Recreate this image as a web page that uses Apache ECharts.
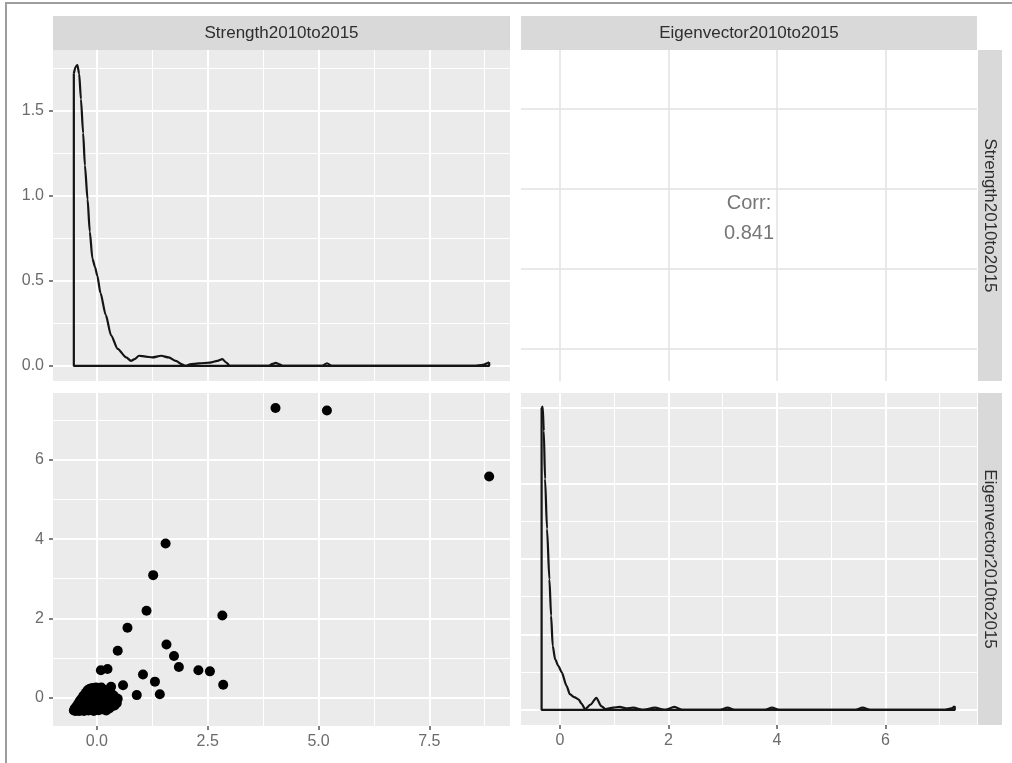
<!DOCTYPE html>
<html><head><meta charset="utf-8">
<script src="https://cdn.jsdelivr.net/npm/echarts@6/dist/echarts.min.js"></script>
<style>html,body{margin:0;padding:0;background:#fff}#chart{width:1012px;height:763px}</style>
</head><body><div id="chart"></div>
<script>
// ---- data ----
const varNames = ['Strength2010to2015', 'Eigenvector2010to2015'];
const corrLabel = 'Corr:';
const corrValue = '0.841';

// scatter: Strength (x) vs Eigenvector (y)
const strengthVals = [4.03,5.19,8.85,1.55,1.27,1.12,2.83,0.69,0.47,1.57,1.74,1.85,2.29,2.55,2.85,1.04,1.31,1.42,0.90,0.59,0.09,0.24,0.32,
  -0.52,-0.50,-0.48,-0.46,-0.45,-0.43,-0.42,-0.40,-0.39,-0.38,-0.36,-0.35,-0.34,-0.33,-0.31,-0.30,-0.29,-0.28,-0.27,-0.25,-0.24,-0.23,-0.22,-0.21,-0.20,-0.19,-0.18,-0.17,-0.16,-0.15,-0.14,-0.13,-0.12,-0.11,-0.10,-0.09,-0.08,-0.07,-0.06,-0.05,-0.04,-0.03,-0.02,-0.01,0.00,0.02,0.03,0.04,0.05,0.06,0.08,0.09,0.10,0.11,0.12,0.14,0.15,0.16,0.18,0.20,0.21,0.23,0.25,0.27,0.28,0.30,0.32,0.34,0.36,0.38,0.40,0.42,0.45,0.47];
const eigenVals = [7.31,7.25,5.58,3.89,3.09,2.19,2.07,1.76,1.18,1.34,1.05,0.77,0.69,0.66,0.32,0.58,0.40,0.08,0.06,0.31,0.69,0.72,0.27,
  -0.33,-0.28,-0.34,-0.22,-0.30,-0.33,-0.15,-0.26,-0.34,-0.08,-0.20,-0.31,-0.02,-0.13,-0.27,0.05,-0.34,-0.06,-0.20,0.12,-0.30,0.02,-0.12,0.18,-0.25,-0.33,0.08,-0.04,0.22,-0.18,0.15,-0.29,0.03,-0.10,0.24,0.18,-0.22,-0.34,0.10,-0.02,0.22,-0.15,0.25,-0.27,0.06,0.18,-0.08,-0.32,0.24,-0.20,0.12,0.00,0.25,-0.12,-0.30,0.20,0.05,-0.24,-0.06,0.15,-0.33,0.02,-0.16,0.20,-0.28,-0.05,0.10,-0.22,-0.12,0.05,-0.20,-0.08,-0.14,-0.03];

// diagonal densities
const strengthDensX = [-0.52,-0.48,-0.44,-0.40,-0.36,-0.31,-0.27,-0.21,-0.16,-0.10,-0.04,0.01,0.08,0.20,0.32,0.47,0.66,0.77,0.85,0.95,1.10,1.25,1.45,1.62,1.78,1.92,2.00,2.10,2.30,2.55,2.72,2.83,2.92,3.00,3.88,3.96,4.03,4.12,4.20,5.08,5.19,5.30,8.55,8.70,8.80,8.85];
const strengthDensY = [1.72,1.76,1.77,1.72,1.57,1.37,1.18,0.98,0.79,0.63,0.58,0.53,0.43,0.30,0.18,0.10,0.05,0.03,0.04,0.06,0.055,0.05,0.06,0.05,0.03,0.01,0.0,0.01,0.015,0.02,0.03,0.04,0.02,0.0,0.0,0.012,0.018,0.01,0.0,0.0,0.016,0.0,0.0,0.006,0.015,0.022];
const eigenDensX = [-0.34,-0.32,-0.30,-0.276,-0.24,-0.196,-0.165,-0.135,-0.09,-0.03,0.03,0.12,0.18,0.26,0.34,0.40,0.46,0.56,0.67,0.76,0.84,0.98,1.10,1.22,1.35,1.53,1.75,1.93,2.11,2.26,2.95,3.09,3.22,3.78,3.91,4.04,5.45,5.58,5.72,7.10,7.22,7.28];
const eigenDensY = [4.00,4.02,3.70,3.06,2.40,1.73,1.25,0.85,0.67,0.58,0.50,0.32,0.21,0.17,0.14,0.08,0.01,0.07,0.16,0.05,0.01,0.03,0.04,0.02,0.03,0.0,0.03,0.0,0.04,0.0,0.0,0.03,0.0,0.0,0.03,0.0,0.0,0.03,0.0,0.0,0.02,0.05];

// axis ranges and breaks
const strengthRange = [-0.99, 9.32];
const eigenRange = [-0.72, 7.69];
const strengthDensRange = [-0.0885, 1.8585];
const eigenDensRange = [-0.2, 4.2];
const strengthTicks = [0, 2.5, 5, 7.5];
const strengthMinor = [1.25, 3.75, 6.25, 8.75];
const eigenTicks = [0, 2, 4, 6];
const eigenMinor = [1, 3, 5, 7];
const strengthDensTicks = [0, 0.5, 1, 1.5];
const strengthDensMinor = [0.25, 0.75, 1.25, 1.75];
const eigenDensTicks = [0, 1, 2, 3, 4];
const eigenDensMinor = [0.5, 1.5, 2.5, 3.5];

// ---- layout ----
const FONT = '"Liberation Sans", Arial, Helvetica, sans-serif';
const panels = [
  {left: 53, top: 50, width: 457, height: 331, bg: '#ebebeb'},   // TL
  {left: 521, top: 50, width: 456, height: 331, bg: '#ffffff'},  // TR
  {left: 53, top: 393, width: 457, height: 333, bg: '#ebebeb'},  // BL
  {left: 521, top: 393, width: 456, height: 332, bg: '#ebebeb'}  // BR
];
const fmt1 = v => Number(v).toFixed(1);
const fmt0 = v => String(Number(v));

const xAxes = [], yAxes = [];
function addAxes(list, dim, grid, range, major, minor, o) {
  const base = {type: 'value', gridIndex: grid, min: range[0], max: range[1],
    position: dim === 'x' ? 'bottom' : 'left', axisLine: {show: false, onZero: false}};
  const mainIdx = list.length;
  list.push(Object.assign({}, base, {
    axisTick: {show: !!o.labels, customValues: major, length: 4, lineStyle: {color: '#555', width: 1.5}},
    axisLabel: {show: !!o.labels, customValues: major, formatter: o.fmt || fmt0, color: '#6b6b6b',
      fontSize: 16, fontFamily: FONT, margin: dim === 'x' ? 8 : 9},
    splitLine: {show: true, lineStyle: {color: o.gridColor || '#ffffff', width: o.majorWidth || 2}}
  }));
  list.push(Object.assign({}, base, {
    axisTick: {show: false, customValues: minor},
    axisLabel: {show: false, customValues: minor},
    splitLine: {show: minor.length > 0, lineStyle: {color: '#ffffff', width: 1}}
  }));
  return mainIdx;
}

const tlx = addAxes(xAxes, 'x', 0, strengthRange, strengthTicks, strengthMinor, {});
const tly = addAxes(yAxes, 'y', 0, strengthDensRange, strengthDensTicks, strengthDensMinor, {labels: true, fmt: fmt1});
const trx = addAxes(xAxes, 'x', 1, eigenRange, eigenTicks, [], {gridColor: '#e2e2e2', majorWidth: 1.5});
const trY = addAxes(yAxes, 'y', 1, strengthRange, strengthTicks, [], {gridColor: '#e2e2e2', majorWidth: 1.5});
const blx = addAxes(xAxes, 'x', 2, strengthRange, strengthTicks, strengthMinor, {labels: true, fmt: fmt1});
const bly = addAxes(yAxes, 'y', 2, eigenRange, eigenTicks, eigenMinor, {labels: true, fmt: fmt0});
const brx = addAxes(xAxes, 'x', 3, eigenRange, eigenTicks, eigenMinor, {labels: true, fmt: fmt0});
const bry = addAxes(yAxes, 'y', 3, eigenDensRange, eigenDensTicks, eigenDensMinor, {});

function curve(xs, ys) { return xs.map((x, i) => [x, ys[i]]); }
function edges(xs, ys) {
  const n = xs.length - 1;
  return [[xs[n], ys[n]], [xs[n], 0], [xs[0], 0], [xs[0], ys[0]]];
}
const lineStyle = {color: '#141414', width: 2.2};
function densSeries(xi, yi, xs, ys) {
  return [
    {type: 'line', xAxisIndex: xi, yAxisIndex: yi, data: curve(xs, ys), showSymbol: false, symbol: 'none',
      smooth: 0.25, smoothMonotone: 'x', lineStyle: lineStyle, z: 3, silent: true, animation: false},
    {type: 'line', xAxisIndex: xi, yAxisIndex: yi, data: edges(xs, ys), showSymbol: false, symbol: 'none',
      lineStyle: lineStyle, z: 3, silent: true, animation: false}
  ];
}

const series = [].concat(
  densSeries(tlx, tly, strengthDensX, strengthDensY),
  [{type: 'scatter', xAxisIndex: blx, yAxisIndex: bly, data: curve(strengthVals, eigenVals),
    symbolSize: 10, itemStyle: {color: '#000000', opacity: 1}, z: 3, silent: true, animation: false}],
  densSeries(brx, bry, eigenDensX, eigenDensY)
);

// strips and frame
const stripFill = '#d9d9d9';
const stripText = {fill: '#2e2e2e', fontSize: 17, fontFamily: FONT, align: 'center', verticalAlign: 'middle'};
const graphics = [
  {type: 'rect', shape: {x: 5, y: 2, width: 1007, height: 2}, style: {fill: '#9e9e9e'}, silent: true},
  {type: 'rect', shape: {x: 5, y: 2, width: 2, height: 761}, style: {fill: '#9e9e9e'}, silent: true}
];
[[0, varNames[0]], [1, varNames[1]]].forEach(([pi, name]) => {
  const p = panels[pi];
  graphics.push({type: 'rect', shape: {x: p.left, y: 16, width: p.width, height: 34}, style: {fill: stripFill}, silent: true});
  graphics.push({type: 'text', x: p.left + p.width / 2, y: 33, style: Object.assign({text: name}, stripText), silent: true});
});
[[1, varNames[0]], [3, varNames[1]]].forEach(([pi, name]) => {
  const p = panels[pi];
  graphics.push({type: 'rect', shape: {x: 978, y: p.top, width: 24, height: p.height}, style: {fill: stripFill}, silent: true});
  graphics.push({type: 'text', x: 990, y: p.top + p.height / 2, rotation: -Math.PI / 2,
    style: Object.assign({text: name}, stripText), silent: true});
});
const trp = panels[1];
const corrStyle = {fill: '#767676', fontSize: 20, fontFamily: FONT, align: 'center', verticalAlign: 'middle'};
graphics.push({type: 'text', x: trp.left + trp.width / 2, y: 203, style: Object.assign({text: corrLabel}, corrStyle), silent: true});
graphics.push({type: 'text', x: trp.left + trp.width / 2, y: 233, style: Object.assign({text: corrValue}, corrStyle), silent: true});

const chart = echarts.init(document.getElementById('chart'), null, {renderer: 'canvas'});
chart.setOption({
  backgroundColor: '#ffffff',
  animation: false,
  grid: panels.map(p => ({left: p.left, top: p.top, width: p.width, height: p.height,
    show: true, backgroundColor: p.bg, borderWidth: 0, containLabel: false})),
  xAxis: xAxes,
  yAxis: yAxes,
  series: series,
  graphic: graphics
});
</script>
</body></html>
